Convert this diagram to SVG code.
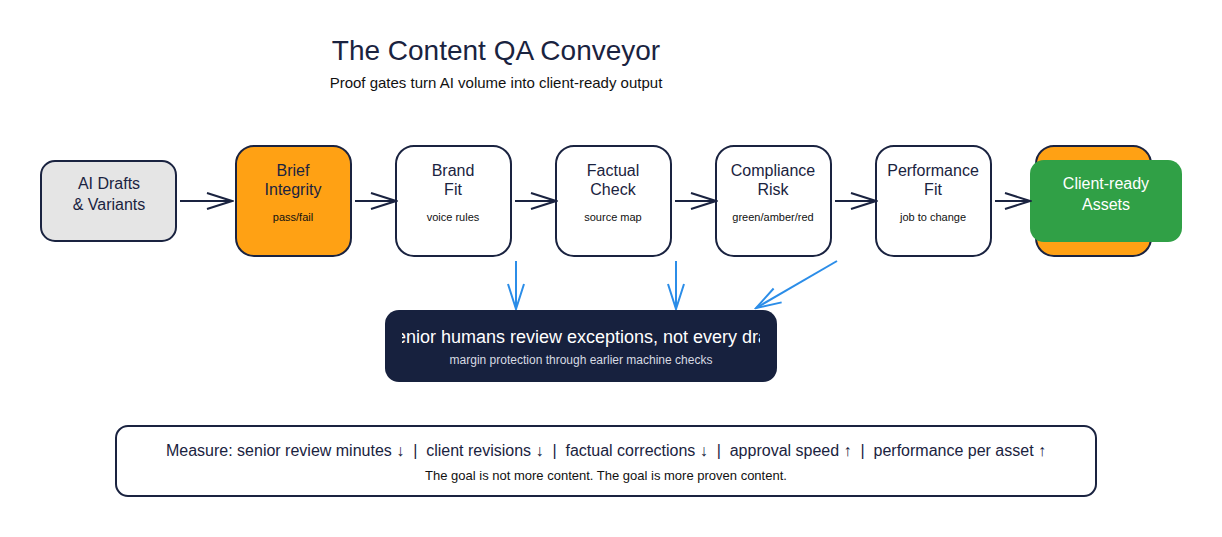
<svg xmlns="http://www.w3.org/2000/svg" width="1222" height="537" viewBox="0 0 1222 537">
<style>
text{font-family:"Liberation Sans",Arial,sans-serif;text-anchor:middle}
.box{stroke:#1a2340;stroke-width:2}
.t{font-size:16px;fill:#1a2340}
.s{font-size:11px;fill:#111}
.c{fill:none;stroke:#1a2340;stroke-width:2}
.b{fill:none;stroke:#2b8de8;stroke-width:2}
</style>
<defs>
<marker id="a" markerWidth="28" markerHeight="20" refX="26" refY="10" orient="auto" markerUnits="userSpaceOnUse"><path d="M1,2 L26,10 L1,18" fill="none" stroke="#1a2340" stroke-width="2"/></marker>
<marker id="ab" markerWidth="28" markerHeight="20" refX="26" refY="10" orient="auto" markerUnits="userSpaceOnUse"><path d="M1,2 L26,10 L1,18" fill="none" stroke="#2b8de8" stroke-width="2"/></marker>
<clipPath id="cp"><rect x="402" y="318" width="358" height="30"/></clipPath>
</defs>
<rect width="1222" height="537" fill="#fff"/>
<text x="496" y="60" font-size="28" fill="#1a2340">The Content QA Conveyor</text>
<text x="496" y="88" font-size="15" fill="#111">Proof gates turn AI volume into client-ready output</text>
<g id="n0"><rect class="box" x="41" y="161" width="135" height="80" rx="14" fill="#e5e5e5"/><text class="t" x="109" y="189">AI Drafts</text><text class="t" x="109" y="210">&amp; Variants</text></g>
<g id="n1"><rect class="box" x="236" y="146" width="115" height="110" rx="18" fill="#ffa114"/><text class="t" x="293" y="176">Brief</text><text class="t" x="293" y="195">Integrity</text><text class="s" x="293" y="221">pass/fail</text></g>
<g id="n2"><rect class="box" x="396" y="146" width="115" height="110" rx="18" fill="#fff"/><text class="t" x="453" y="176">Brand</text><text class="t" x="453" y="195">Fit</text><text class="s" x="453" y="221">voice rules</text></g>
<g id="n3"><rect class="box" x="556" y="146" width="115" height="110" rx="18" fill="#fff"/><text class="t" x="613" y="176">Factual</text><text class="t" x="613" y="195">Check</text><text class="s" x="613" y="221">source map</text></g>
<g id="n4"><rect class="box" x="716" y="146" width="115" height="110" rx="18" fill="#fff"/><text class="t" x="773" y="176">Compliance</text><text class="t" x="773" y="195">Risk</text><text class="s" x="773" y="221">green/amber/red</text></g>
<g id="n5"><rect class="box" x="876" y="146" width="115" height="110" rx="18" fill="#fff"/><text class="t" x="933" y="176">Performance</text><text class="t" x="933" y="195">Fit</text><text class="s" x="933" y="221">job to change</text></g>
<g id="n6"><rect class="box" x="1036" y="146" width="115" height="110" rx="18" fill="#ffa114"/><rect x="1030" y="160" width="152" height="82" rx="14" fill="#30a046"/><text class="t" x="1106" y="189" style="fill:#fff">Client-ready</text><text class="t" x="1106" y="210" style="fill:#fff">Assets</text></g>
<g id="connectors">
<path class="c" d="M180,201H232" marker-end="url(#a)"/>
<path class="c" d="M355,201H396" marker-end="url(#a)"/>
<path class="c" d="M515,201H556" marker-end="url(#a)"/>
<path class="c" d="M675,201H716" marker-end="url(#a)"/>
<path class="c" d="M835,201H876" marker-end="url(#a)"/>
<path class="c" d="M995,201H1030" marker-end="url(#a)"/>
<path class="b" d="M516,261V309" marker-end="url(#ab)"/>
<path class="b" d="M676,261V309" marker-end="url(#ab)"/>
<path class="b" d="M837,261L756,308" marker-end="url(#ab)"/>
</g>
<g id="review"><rect x="385" y="310" width="392" height="72" rx="14" fill="#17213e"/><text x="581" y="343" font-size="18" fill="#fff" clip-path="url(#cp)">Senior humans review exceptions, not every draft</text><text x="581" y="364" font-size="12" fill="#d8dbe3">margin protection through earlier machine checks</text></g>
<g id="measure"><rect class="box" x="116" y="426" width="980" height="70" rx="12" fill="#fff"/><text x="606" y="456" font-size="16" fill="#1a2340" xml:space="preserve">Measure: senior review minutes ↓  |  client revisions ↓  |  factual corrections ↓  |  approval speed ↑  |  performance per asset ↑</text><text x="606" y="480" font-size="13" fill="#111">The goal is not more content. The goal is more proven content.</text></g>
</svg>
